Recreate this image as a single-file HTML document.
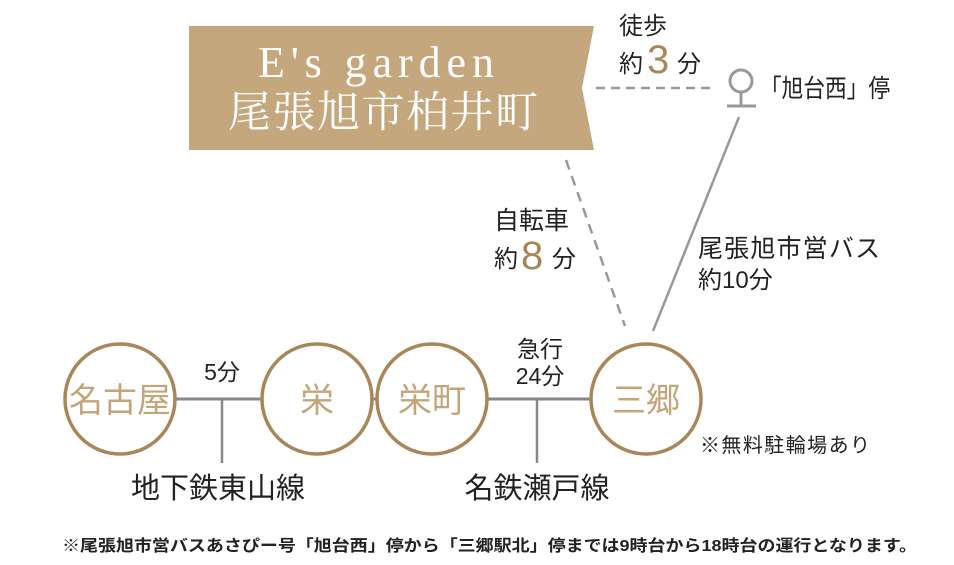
<!DOCTYPE html>
<html><head><meta charset="utf-8"><style>
html,body{margin:0;padding:0;background:#fff;}
svg{display:block;}
.s{font-family:"Liberation Sans","Noto Sans CJK JP",sans-serif;fill:#222;}
.g{font-family:"Liberation Sans","Noto Sans CJK JP",sans-serif;fill:#c4a57a;}
</style></head><body>
<svg width="954" height="565" viewBox="0 0 954 565" xmlns="http://www.w3.org/2000/svg">
<polygon points="189,26 594,26 582,88 594,150 189,150" fill="#c4a77d"/>
<text x="376" y="77" text-anchor="middle" font-family="Liberation Serif,serif" font-size="44" fill="#fff" textLength="236" lengthAdjust="spacing">E's garden</text>
<text x="383" y="127" text-anchor="middle" font-family="'Liberation Serif','Noto Serif CJK SC',serif" font-size="43" fill="#fff" textLength="310" lengthAdjust="spacing">尾張旭市柏井町</text>
<line x1="596" y1="88" x2="716" y2="88" stroke="#999" stroke-width="2.5" stroke-dasharray="9,6"/>
<circle cx="741" cy="81" r="11" fill="none" stroke="#999" stroke-width="3"/>
<line x1="741" y1="92" x2="741" y2="105" stroke="#999" stroke-width="3"/>
<line x1="727" y1="106" x2="756" y2="106" stroke="#999" stroke-width="3"/>
<text class="s" x="760" y="97" font-size="25" textLength="130" lengthAdjust="spacingAndGlyphs">「旭台西」停</text>
<text class="s" x="619" y="34" font-size="24">徒歩</text>
<text class="s" x="619" y="72" font-size="24">約</text>
<text class="g" x="647" y="73" font-size="40" style="fill:#a8865a">3</text>
<text class="s" x="677" y="72" font-size="24">分</text>
<line x1="566" y1="160" x2="625" y2="326" stroke="#999" stroke-width="2.5" stroke-dasharray="10,7"/>
<line x1="739" y1="117" x2="653" y2="331" stroke="#999" stroke-width="2.5"/>
<text class="s" x="494" y="229" font-size="25">自転車</text>
<text class="s" x="494" y="267" font-size="24">約</text>
<text class="g" x="521" y="269" font-size="40" style="fill:#a8865a">8</text>
<text class="s" x="552" y="267" font-size="24">分</text>
<text class="s" x="698" y="257" font-size="25" textLength="182">尾張旭市営バス</text>
<text class="s" x="698" y="288" font-size="24">約10分</text>
<line x1="175" y1="399" x2="591" y2="399" stroke="#888" stroke-width="3"/>
<line x1="222" y1="399" x2="222" y2="463" stroke="#888" stroke-width="2.5"/>
<line x1="537" y1="399" x2="537" y2="463" stroke="#888" stroke-width="2.5"/>
<g fill="#fff" stroke="#a8865a" stroke-width="3.5">
<circle cx="120" cy="399" r="55"/><circle cx="317" cy="399" r="55"/><circle cx="432" cy="399" r="55"/><circle cx="646" cy="399" r="55"/>
</g>
<g font-size="34" text-anchor="middle">
<text class="g" x="120" y="412">名古屋</text>
<text class="g" x="317" y="412">栄</text>
<text class="g" x="432" y="412">栄町</text>
<text class="g" x="646" y="412">三郷</text>
</g>
<text class="s" x="222" y="380" font-size="23" text-anchor="middle">5分</text>
<text class="s" x="540" y="357" font-size="23" text-anchor="middle">急行</text>
<text class="s" x="540" y="384" font-size="23" text-anchor="middle">24分</text>
<text class="s" x="218" y="498" font-size="29" text-anchor="middle">地下鉄東山線</text>
<text class="s" x="537" y="498" font-size="29" text-anchor="middle">名鉄瀬戸線</text>
<text class="s" x="700" y="452" font-size="20" textLength="170">※無料駐輪場あり</text>
<text class="s" x="62" y="551" font-size="16" font-weight="bold" textLength="855" lengthAdjust="spacingAndGlyphs">※尾張旭市営バスあさぴー号「旭台西」停から「三郷駅北」停までは9時台から18時台の運行となります。</text>
</svg>
</body></html>
